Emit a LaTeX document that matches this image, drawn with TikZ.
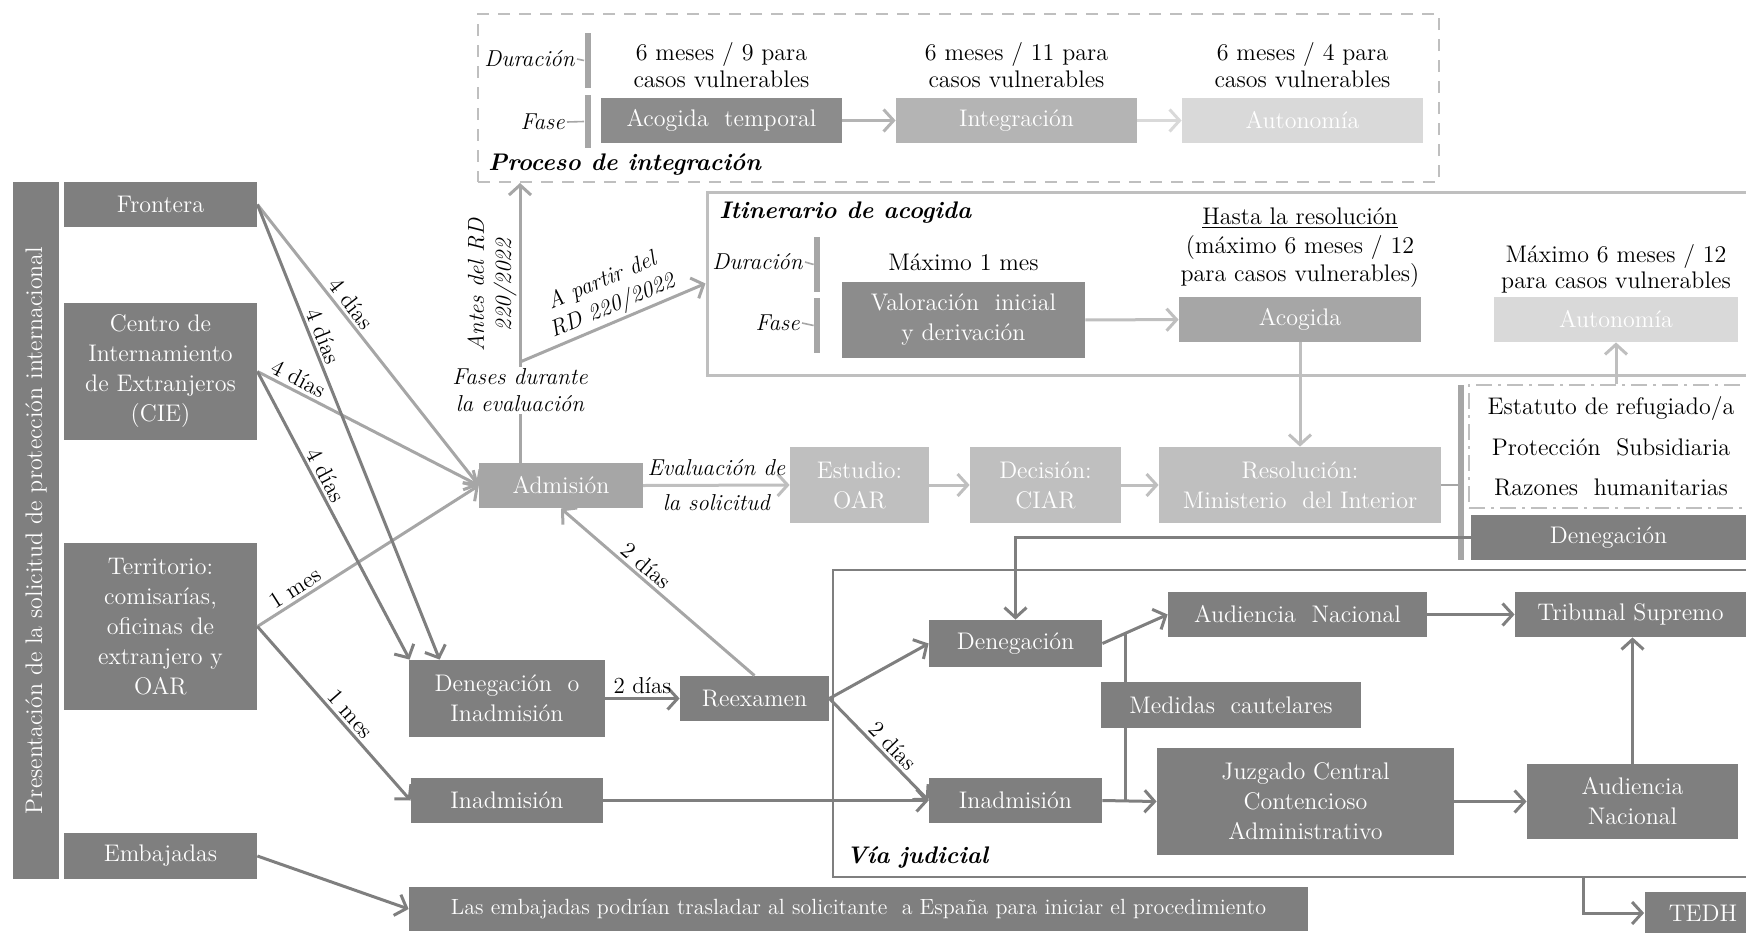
\documentclass[tikz,border=0pt]{standalone}
\usepackage{xcolor}
\usepackage{tikz}
\usetikzlibrary{arrows.meta,positioning,calc}

\definecolor{dgray}{HTML}{7F7F7F}
\definecolor{mgray}{HTML}{8C8C8C}
\definecolor{agray}{HTML}{A6A6A6}
\definecolor{igray}{HTML}{B4B4B4}
\definecolor{lgray}{HTML}{BFBFBF}
\definecolor{vlgray}{HTML}{D9D9D9}

\begin{document}
\begin{tikzpicture}[
  x=0.5pt, y=-0.5pt,
  font=\fontsize{12}{15}\selectfont,
  box/.style={fill=dgray, text=white, align=center, inner sep=2pt},
  lbl/.style={font=\fontsize{11.5}{13.5}\selectfont\itshape, text=black, inner sep=1pt},
  ttl/.style={font=\fontsize{12}{15}\selectfont\bfseries\itshape, anchor=west, inner sep=0pt},
  tip/.style={font=\fontsize{11.5}{13.5}\selectfont, text=black, inner sep=1.5pt},
  vbar/.style={fill=agray, minimum width=3pt, inner sep=0pt},
  darr/.style={-{Straight Barb[length=5pt,width=11pt]}, line width=1.5pt, draw=dgray},
  larr/.style={darr, draw=agray},
  tick/.style={draw=agray, line width=0.8pt}
]
\useasboundingbox (0,0) rectangle (1746,932);

\node[box, rotate=90, minimum width=348.5pt, minimum height=23pt] (pres) at (36,530.5) {Presentación\ de la solicitud\ de protección\ internacional};
\node[box, minimum width=96.5pt, minimum height=22.5pt] (frontera) at (160.5,204.5) {Frontera};
\node[box, minimum width=96.5pt, minimum height=68.5pt] (cie) at (160.5,371.5) {Centro de\\Internamiento\\de Extranjeros\\(CIE)};
\node[box, minimum width=96.5pt, minimum height=83.5pt] (territorio) at (160.5,626.5) {Territorio:\\comisarías,\\oficinas de\\extranjero y\\OAR};
\node[box, minimum width=96.5pt, minimum height=23pt] (embajadas) at (160.5,856) {Embajadas};

\node[draw=lgray, line width=1pt, dash pattern=on 6pt off 4.5pt, minimum width=480.5pt, minimum height=84pt] (proc) at (958.5,98) {};
\node[ttl] (proct) at (488,165) {Proceso de integración};
\node[vbar, minimum height=27.5pt] (b1) at (587.5,60.5) {};
\node[vbar, minimum height=26.5pt] (b2) at (587.5,121.5) {};
\node[lbl, anchor=east] (dur1) at (577,59) {Duración};
\node[lbl, anchor=east] (fase1) at (567,122) {Fase};
\draw[tick] (dur1.east) -- (b1.west);
\draw[tick] (fase1.east) -- (b2.west);
\node[align=center, font=\fontsize{12}{13.5}\selectfont] (dt1) at (721.5,65) {6 meses / 9 para\\casos vulnerables};
\node[align=center, font=\fontsize{12}{13.5}\selectfont] (dt2) at (1016.5,65) {6 meses / 11 para\\casos vulnerables};
\node[align=center, font=\fontsize{12}{13.5}\selectfont] (dt3) at (1302.5,65) {6 meses / 4 para\\casos vulnerables};
\node[box, fill=mgray, minimum width=120.5pt, minimum height=22.5pt] (acotemp) at (721.5,120.5) {Acogida\ \ temporal};
\node[box, fill=igray, minimum width=120.5pt, minimum height=22.5pt] (integ) at (1016.5,120.5) {Integración};
\node[box, fill=vlgray, minimum width=120.5pt, minimum height=22.5pt] (auton1) at (1302.5,120.5) {Autonomía};
\draw[larr, draw=igray] (acotemp) -- (integ);
\draw[larr, draw=vlgray] (integ) -- (auton1);

\node[draw=lgray, line width=1.5pt, minimum width=526.5pt, minimum height=91.5pt] (itin) at (1233.5,283.5) {};
\node[ttl] (itint) at (719,213) {Itinerario de acogida};
\node[vbar, minimum height=27.5pt] (b3) at (817,264.5) {};
\node[vbar, minimum height=27.5pt] (b4) at (817,325.5) {};
\node[lbl, anchor=east] (dur2) at (805,262) {Duración};
\node[lbl, anchor=east] (fase2) at (802,323) {Fase};
\draw[tick] (dur2.east) -- (b3.west);
\draw[tick] (fase2.east) -- (b4.west);
\node (mx1) at (963.5,262) {Máximo 1 mes};
\node[box, fill=mgray, minimum width=121.5pt, minimum height=38pt] (valor) at (963.5,320) {Valoración\ \ inicial\\y derivación};
\node[align=center, font=\fontsize{12}{14.25}\selectfont] (hasta) at (1300,248) {\underline{Hasta la resolución}\\(máximo 6 meses / 12\\para casos vulnerables)};
\node[box, fill=agray, minimum width=121pt, minimum height=22.5pt] (acogida) at (1300,319.5) {Acogida};
\node[align=center, font=\fontsize{12}{13}\selectfont] (mx2) at (1616,269) {Máximo 6 meses / 12\\para casos vulnerables};
\node[box, fill=vlgray, minimum width=122pt, minimum height=22.5pt] (auton2) at (1616,319.5) {Autonomía};
\draw[larr, draw=lgray] (valor) -- (acogida);

\node[box, fill=agray, minimum width=81.75pt, minimum height=22.5pt] (admision) at (561,485.5) {Admisión};
\node[box, fill=lgray, minimum width=69.5pt, minimum height=38pt] (estudio) at (859.5,485) {Estudio:\\OAR};
\node[box, fill=lgray, minimum width=75.5pt, minimum height=38pt] (decision) at (1045.5,485) {Decisión:\\CIAR};
\node[box, fill=lgray, minimum width=141pt, minimum height=38pt] (resolucion) at (1300,485) {Resolución:\\Ministerio\ \ del Interior};
\draw[larr, draw=lgray] (admision.east) -- node[lbl, above=3pt] {Evaluación de} node[lbl, below=3pt] {la solicitud} (estudio.west);
\draw[larr, draw=lgray] (estudio) -- (decision);
\draw[larr, draw=lgray] (decision) -- (resolucion);
\draw[larr, draw=lgray] (acogida) -- (resolucion);

\node[vbar, minimum height=87.5pt] (b5) at (1461,472.5) {};
\draw[tick] (resolucion.east) -- (resolucion.east -| b5.west);
\node[draw=lgray, line width=1pt, dash pattern=on 8pt off 3pt on 1.5pt off 3pt, minimum width=145.5pt, minimum height=61.5pt] (prot) at (1614.5,446.5) {};
\node (estatuto) at (1611,408) {Estatuto de refugiado/a};
\node (subsid) at (1611,447) {Protección\ \ Subsidiaria};
\node (human) at (1611,487) {Razones\ \ humanitarias};
\node[box, minimum width=137.5pt, minimum height=22.5pt] (denegR) at (1608.5,537.5) {Denegación};
\draw[larr, draw=lgray] (prot.north -| auton2) -- (auton2.south);

\coordinate (jn) at (520,362);
\draw[agray, line width=1.5pt] (admision.north -| jn) -- node[lbl, pos=0.72, fill=white, align=center] (fases) {Fases durante\\la evaluación} (jn);
\draw[larr] (jn) -- node[lbl, sloped, above, align=center, pos=0.43] {Antes del RD\\220/2022} (jn |- proc.south);
\draw[larr] (jn) -- node[lbl, sloped, above, align=center, pos=0.53] {A partir del\\RD 220/2022} (itin.west);

\node[box, minimum width=98pt, minimum height=38.5pt] (deninad) at (507,698.5) {Denegación\ \ o\\Inadmisión};
\node[box, minimum width=96pt, minimum height=22.5pt] (inadm) at (507,800.5) {Inadmisión};
\node[box, minimum width=74.5pt, minimum height=22.5pt] (reexamen) at (754.5,698.5) {Reexamen};
\node[box, minimum width=449.5pt, minimum height=22pt, font=\fontsize{11}{13}\selectfont] (emb) at (858.5,909) {Las embajadas\ podrían\ trasladar\ al solicitante\ \ a España\ para iniciar el procedimiento};

\draw[larr] (frontera.east) -- node[tip, sloped, above, pos=0.38] {4 días} (admision.west);
\draw[larr] (cie.east) -- node[tip, sloped, above, pos=0.16] {4 días} (admision.west);
\draw[larr] (territorio.east) -- node[tip, sloped, above, pos=0.2] {1 mes} (admision.west);
\draw[darr] (frontera.east) -- node[tip, sloped, above, pos=0.3] {4 días} ([xshift=15.5pt]deninad.north west);
\draw[darr] (cie.east) -- node[tip, sloped, above, pos=0.38] {4 días} ([xshift=0.5pt]deninad.north west);
\draw[darr] (territorio.east) -- node[tip, sloped, above, pos=0.55] {1 mes} (inadm.west);
\draw[darr] (embajadas.east) -- (emb.west);
\draw[darr] (deninad.east) -- node[tip, above] {2 días} (reexamen.west);
\draw[larr] (reexamen.north) -- node[tip, sloped, above, pos=0.6] {2 días} (admision.south);

\node[draw=dgray, line width=1.2pt, minimum width=463.5pt, minimum height=153.5pt] (jud) at (1296.5,723.5) {};
\node[ttl] (judt) at (846,858) {Vía judicial};
\node[box, minimum width=86.5pt, minimum height=23.5pt] (denJ) at (1015.5,643.5) {Denegación};
\node[box, minimum width=86.5pt, minimum height=22.5pt] (inadJ) at (1015.5,800.5) {Inadmisión};
\node[box, minimum width=129.5pt, minimum height=22.5pt] (audN1) at (1297.5,614.5) {Audiencia\ \ Nacional};
\node[box, minimum width=115.5pt, minimum height=22.5pt] (trib) at (1630.5,614.5) {Tribunal\ Supremo};
\node[box, minimum width=130pt, minimum height=23pt] (medidas) at (1231,705) {Medidas\ \ cautelares};
\node[box, minimum width=148.5pt, minimum height=53.5pt] (juzgado) at (1305.5,801.5) {Juzgado Central\\Contencioso\\Administrativo};
\node[box, minimum width=105.5pt, minimum height=37.5pt] (audN2) at (1632.5,801.5) {Audiencia\\Nacional};
\node[box, minimum width=58.5pt, minimum height=21pt] (tedh) at (1703,913) {TEDH};

\draw[darr] (reexamen.east) -- (denJ.west);
\draw[darr] (reexamen.east) -- node[tip, sloped, above, pos=0.55] {2 días} (inadJ.west);
\draw[darr] (inadm.east) -- (inadJ.west);
\draw[darr] (denegR.west) -| (denJ.north);
\draw[darr] (denJ.east) -- (audN1.west);
\draw[darr] (inadJ.east) -- (juzgado.west);
\draw[dgray, line width=1.5pt] ($(denJ.east)!0.35!(audN1.west)$) coordinate (mc) -- (mc |- medidas.north);
\draw[dgray, line width=1.5pt] (mc |- medidas.south) -- (mc |- inadJ.east);
\draw[darr] (audN1.east) -- (trib.west);
\draw[darr] (juzgado.east) -- (audN2.west);
\draw[darr] (audN2.north) -- (audN2.north |- trib.south);
\coordinate (jb) at ($(jud.south west)+(752,0)$);
\draw[darr] (jb) |- (tedh.west);
\end{tikzpicture}
\end{document}
